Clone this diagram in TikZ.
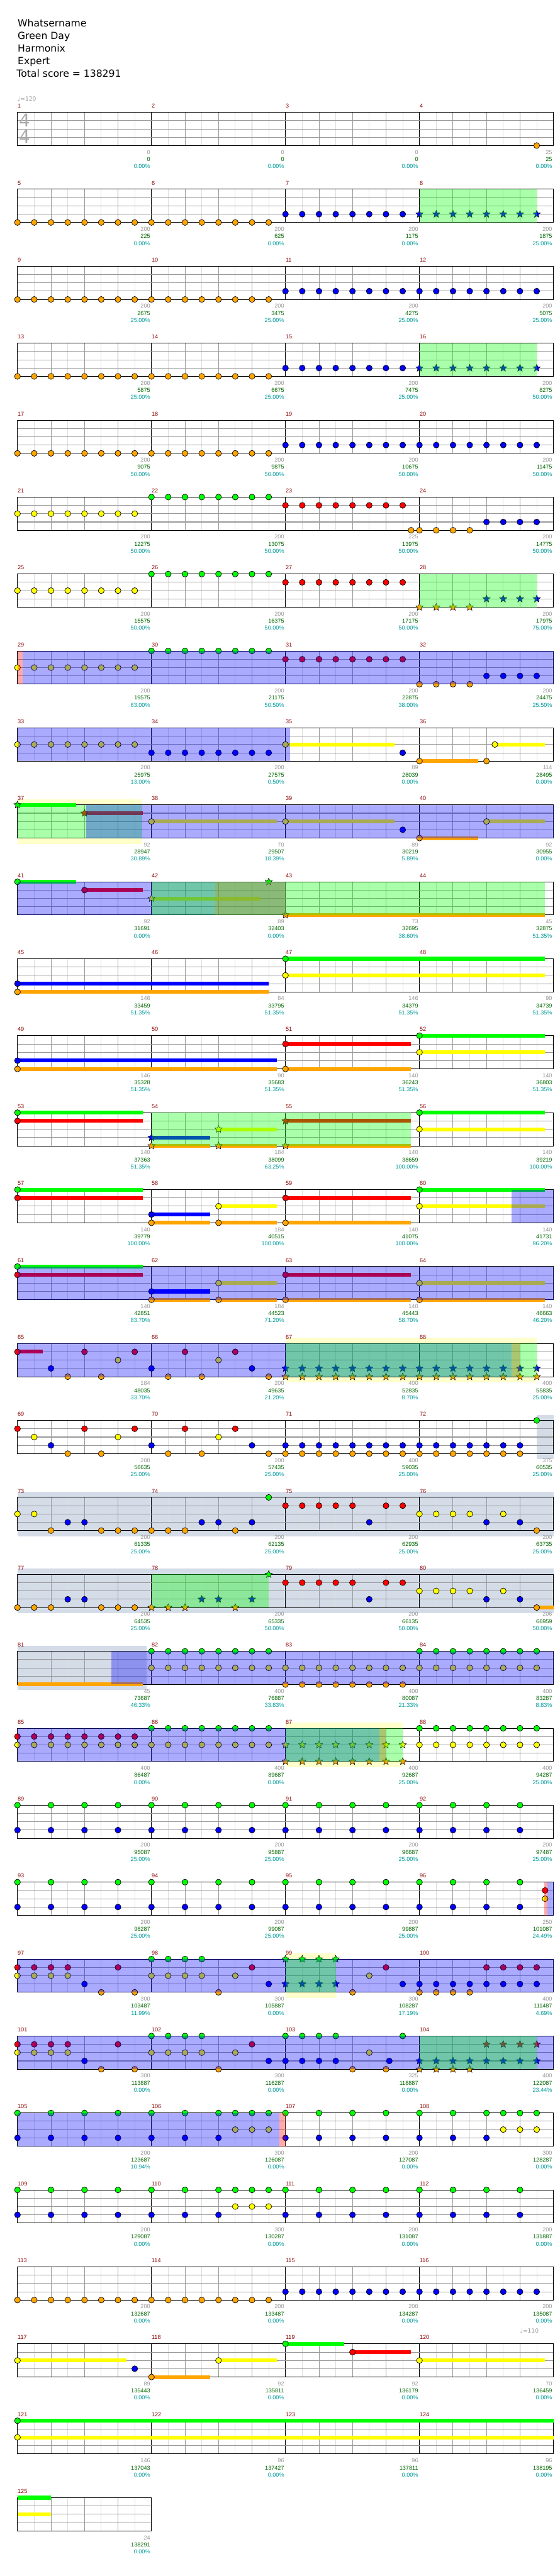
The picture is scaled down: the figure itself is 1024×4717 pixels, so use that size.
\documentclass[tikz,border=0pt]{standalone}
\usepackage{fontspec}
\setmainfont{DejaVu Sans}
\newfontfamily\lblfont{Liberation Sans}
\usetikzlibrary{shapes.geometric}

\definecolor{lane0}{HTML}{00FF00}
\definecolor{lane1}{HTML}{FF0000}
\definecolor{lane2}{HTML}{FFFF00}
\definecolor{lane3}{HTML}{0000FF}
\definecolor{lane4}{HTML}{FFA500}
\definecolor{yzone}{HTML}{FFFFCC}
\definecolor{gzone}{HTML}{D4DCE8}
\definecolor{olivetint}{RGB}{188,164,18}
\definecolor{barnum}{HTML}{8B0000}
\definecolor{ptgray}{HTML}{999999}
\definecolor{totgreen}{HTML}{006600}
\definecolor{pctteal}{HTML}{009C9C}
\definecolor{gridlt}{HTML}{DDDDDD}
\definecolor{gridmd}{HTML}{999999}

% grid of one row, #1 measures
\newcommand{\staff}[1]{%
  \pgfmathtruncatemacro\nE{8*#1}\pgfmathtruncatemacro\nB{4*#1}
  \foreach \q in {1,...,\nE} \draw[eighthln] (\q,0) -- (\q,4);
  \foreach \q in {1,...,\nB} \draw[beatln] ({2*\q},0) -- ({2*\q},4);
  \foreach \q in {1,...,#1} \draw[barln] ({8*\q},0) -- ({8*\q},4);
  \foreach \l in {1,2,3} \draw[laneln] (0,\l) -- (\nE,\l);
  \draw[barln] (0,0) rectangle (\nE,4);}
\newcommand{\gems}[2]{\foreach \q in {#1}{\node[gem,fill=lane#2] (g#2-\q) at (\q,#2) {};}}
\newcommand{\stars}[2]{\foreach \q in {#1}{\node[stargem,fill=lane#2] (s#2-\q) at (\q,#2) {};}}
\newcommand{\pairs}[1]{\foreach \q/\l in {#1}{\node[gem,fill=lane\l] (g\l-\q) at (\q,\l) {};}}
\newcommand{\spairs}[1]{\foreach \q/\l in {#1}{\node[stargem,fill=lane\l] (s\l-\q) at (\q,\l) {};}}
\newcommand{\sus}[3]{\draw[sus,draw=lane#3] (#1,#3) -- (#2,#3);}
\newcommand{\ovl}[3]{\fill[#1,fill opacity=0.333] (#2,0) rectangle (#3,4);}
\newcommand{\zone}[3]{\fill[#1] (#2,-0.68) rectangle (#3,4.68);}
\newcommand{\yband}[2]{\zone{yzone}{#1}{#2}\fill[white] (#1,0) rectangle (#2,4);}
% measure numbers and the three scores under each bar
\newcommand{\barmarks}[2]{%
  \foreach \vp/\vt/\vc [count=\j from 0] in {#2}{%
    \pgfmathtruncatemacro\mn{#1+\j}
    \node[mnum] (m\mn) at ({8*\j},-0.76) {\mn};
    \node[pts] (p\mn) at ({8*\j+8},4.8) {\vp};
    \node[tot] (t\mn) at ({8*\j+8},5.66) {\vt};
    \node[pct] (c\mn) at ({8*\j+8},6.51) {\vc\%};}}

\begin{document}
\begin{tikzpicture}[x=0.5pt,y=-0.5pt,
  row/.style={shift={(32,{205.7+(#1-1)*140.9})},x=15.328pt,y=-7.6pt},
  gem/.style={circle,draw=black,line width=0.4pt,minimum size=5.4pt,inner sep=0pt},
  stargem/.style={star,star points=5,star point ratio=2.2,draw=black,line width=0.3pt,minimum size=7pt,inner sep=0pt},
  sus/.style={line width=3.5pt},
  eighthln/.style={draw=gridlt,line width=0.5pt},
  beatln/.style={draw=gridmd,line width=0.5pt},
  barln/.style={draw=black,line width=0.55pt},
  laneln/.style={draw=gridmd,line width=0.6pt},
  small/.style={font=\lblfont\fontsize{5.25}{6}\selectfont,inner sep=0pt},
  mnum/.style={small,text=barnum,anchor=west},
  pts/.style={small,text=ptgray,anchor=east,xshift=-1pt},
  tot/.style={small,text=totgreen,anchor=east,xshift=-1pt},
  pct/.style={small,text=pctteal,anchor=east,xshift=-1pt},
  title/.style={font=\fontsize{9}{11}\selectfont,anchor=base west,inner sep=0pt},
  tempo/.style={font=\fontsize{5.25}{6}\selectfont,inner sep=0pt,text=ptgray,anchor=west},
  timesig/.style={font=\fontsize{16}{16}\selectfont,text=black!33,inner sep=0pt}]
\fill[white] (0,0) rectangle (1024,4717);
\useasboundingbox (0,0) rectangle (1024,4717);

\node[title] (song) at (32,49) {Whatsername};
\node[title] (artist) at (32,72) {Green Day};
\node[title] (charter) at (32,95) {Harmonix};
\node[title] (level) at (32,118) {Expert};
\node[title] (score) at (30,141) {Total score = 138291};

\begin{scope}[row=1]
  \staff{4}
  \node[timesig] (sig1) at (0.42,0.95) {4};
  \node[timesig] (sig2) at (0.42,2.92) {4};
  \node[tempo] (bpm1) at (0,-1.62) {♩=120};
  \gems{31}{4}
  \barmarks{1}{0/0/0.00,0/0/0.00,0/0/0.00,25/25/0.00}
\end{scope}

\begin{scope}[row=2]
  \staff{4}
  \gems{0,...,15}{4} \gems{16,...,23}{3} \stars{24,...,31}{3}
  \ovl{lane0}{24}{31}
  \barmarks{5}{200/225/0.00,200/625/0.00,200/1175/0.00,200/1875/25.00}
\end{scope}

\begin{scope}[row=3]
  \staff{4}
  \gems{0,...,15}{4} \gems{16,...,31}{3}
  \barmarks{9}{200/2675/25.00,200/3475/25.00,200/4275/25.00,200/5075/25.00}
\end{scope}

\begin{scope}[row=4]
  \staff{4}
  \gems{0,...,15}{4} \gems{16,...,23}{3} \stars{24,...,31}{3}
  \ovl{lane0}{24}{31}
  \barmarks{13}{200/5875/25.00,200/6675/25.00,200/7475/25.00,200/8275/50.00}
\end{scope}

\begin{scope}[row=5]
  \staff{4}
  \gems{0,...,15}{4} \gems{16,...,31}{3}
  \barmarks{17}{200/9075/50.00,200/9875/50.00,200/10675/50.00,200/11475/50.00}
\end{scope}

\begin{scope}[row=6]
  \staff{4}
  \gems{0,...,7}{2} \gems{8,...,15}{0} \gems{16,...,23}{1}
  \gems{23.5,24,25,26,27}{4} \gems{28,...,31}{3}
  \barmarks{21}{200/12275/50.00,200/13075/50.00,225/13975/50.00,200/14775/50.00}
\end{scope}

\begin{scope}[row=7]
  \staff{4}
  \gems{0,...,7}{2} \gems{8,...,15}{0} \gems{16,...,23}{1}
  \stars{24,...,27}{4} \stars{28,...,31}{3}
  \ovl{lane0}{24}{31}
  \barmarks{25}{200/15575/50.00,200/16375/50.00,200/17175/50.00,200/17975/75.00}
\end{scope}

\begin{scope}[row=8]
  \staff{4}
  \gems{0,...,7}{2} \gems{8,...,15}{0} \gems{16,...,23}{1}
  \gems{24,...,27}{4} \gems{28,...,31}{3}
  \ovl{lane1}{0}{0.3} \ovl{lane3}{0.3}{32}
  \barmarks{29}{200/19575/63.00,200/21175/50.50,200/22875/38.00,200/24475/25.50}
\end{scope}

\begin{scope}[row=9]
  \staff{4}
  \sus{16}{22.5}{2} \sus{24}{27.5}{4} \sus{28.5}{31.5}{2}
  \gems{0,...,7}{2} \gems{8,...,15}{3} \gems{16,28.5}{2} \gems{23}{3} \gems{24,28}{4}
  \ovl{lane3}{0}{16.28}
  \barmarks{33}{200/25975/13.00,200/27575/0.50,89/28039/0.00,114/28495/0.00}
\end{scope}

\begin{scope}[row=10]
  \yband{0}{7.46}
  \staff{4}
  \sus{0}{3.5}{0} \sus{4}{7.5}{1} \sus{8}{15.5}{2} \sus{16}{22.5}{2} \sus{24}{27.5}{4} \sus{28}{31.5}{2}
  \stars{0}{0} \stars{4}{1} \gems{8,16,28}{2} \gems{23}{3} \gems{24}{4}
  \ovl{lane0}{0}{7.46} \ovl{lane3}{4.1}{32}
  \barmarks{37}{92/28947/30.89,70/29507/18.39,89/30219/5.89,92/30955/0.00}
\end{scope}

\begin{scope}[row=11]
  \staff{4}
  \sus{0}{3.5}{0} \sus{4}{7.5}{1} \sus{8}{14.5}{2} \sus{16}{31.5}{4}
  \gems{0}{0} \gems{4}{1} \stars{8}{2} \stars{15}{0} \stars{16}{4}
  \ovl{lane3}{0}{16} \ovl{lane0}{8}{31.5} \ovl{olivetint}{11.8}{16}
  \barmarks{41}{92/31691/0.00,89/32403/0.00,73/32695/38.60,45/32875/51.35}
\end{scope}

\begin{scope}[row=12]
  \staff{4}
  \sus{0}{15}{3} \sus{0}{15}{4} \sus{16}{31.5}{0} \sus{16}{31.5}{2}
  \gems{0}{3} \gems{0}{4} \gems{16}{0} \gems{16}{2}
  \barmarks{45}{146/33459/51.35,84/33795/51.35,146/34379/51.35,90/34739/51.35}
\end{scope}

\begin{scope}[row=13]
  \staff{4}
  \sus{0}{15.5}{3} \sus{0}{15.5}{4} \sus{16}{23.5}{1} \sus{16}{23.5}{4} \sus{24}{31.5}{0} \sus{24}{31.5}{2}
  \gems{0}{3} \gems{0,16}{4} \gems{16}{1} \gems{24}{0} \gems{24}{2}
  \barmarks{49}{146/35328/51.35,90/35683/51.35,140/36243/51.35,140/36803/51.35}
\end{scope}

\begin{scope}[row=14]
  \staff{4}
  \sus{0}{7.5}{0} \sus{0}{7.5}{1} \sus{8}{11.5}{3} \sus{8}{11.5}{4} \sus{12}{15.5}{2}
  \sus{12}{15.5}{4} \sus{16}{23.5}{1} \sus{16}{23.5}{4} \sus{24}{31.5}{0} \sus{24}{31.5}{2}
  \gems{0,24}{0} \gems{0}{1} \gems{24}{2}
  \stars{8}{3} \stars{8,12,16}{4} \stars{12}{2} \stars{16}{1}
  \ovl{lane0}{8}{23.47}
  \barmarks{53}{140/37363/51.35,184/38099/63.25,140/38659/100.00,140/39219/100.00}
\end{scope}

\begin{scope}[row=15]
  \staff{4}
  \sus{0}{7.5}{0} \sus{0}{7.5}{1} \sus{8}{11.5}{3} \sus{8}{11.5}{4} \sus{12}{15.5}{2}
  \sus{12}{15.5}{4} \sus{16}{23.5}{1} \sus{16}{23.5}{4} \sus{24}{31.5}{0} \sus{24}{31.5}{2}
  \gems{0,24}{0} \gems{0,16}{1} \gems{8}{3} \gems{8,12,16}{4} \gems{12,24}{2}
  \ovl{lane3}{29.5}{32}
  \barmarks{57}{140/39779/100.00,184/40515/100.00,140/41075/100.00,140/41731/96.20}
\end{scope}

\begin{scope}[row=16]
  \staff{4}
  \sus{0}{7.5}{0} \sus{0}{7.5}{1} \sus{8}{11.5}{3} \sus{8}{11.5}{4} \sus{12}{15.5}{2}
  \sus{12}{15.5}{4} \sus{16}{23.5}{1} \sus{16}{23.5}{4} \sus{24}{31.5}{2} \sus{24}{31.5}{4}
  \gems{0}{0} \gems{0,16}{1} \gems{8}{3} \gems{8,12,16,24}{4} \gems{12,24}{2}
  \ovl{lane3}{0}{32}
  \barmarks{61}{140/42851/83.70,184/44523/71.20,140/45443/58.70,140/46663/46.20}
\end{scope}

\begin{scope}[row=17]
  \yband{16}{31}
  \staff{4}
  \sus{0}{1.5}{1}
  \pairs{0/1,2/3,3/4,4/1,5/4,6/2,7/1,8/3,9/4,10/1,11/4,12/2,13/1,14/3,15/4}
  \stars{16,...,31}{3} \stars{16,...,31}{4}
  \ovl{lane3}{0}{29.5} \ovl{lane1}{29.5}{30} \ovl{lane0}{16}{31}
  \barmarks{65}{184/48035/33.70,200/49635/21.20,400/52835/8.70,400/55835/25.00}
\end{scope}

\begin{scope}[row=18]
  \zone{gzone}{31}{32}
  \staff{4}
  \pairs{0/1,1/2,2/3,3/4,4/1,5/4,6/2,7/1,8/3,9/4,10/1,11/4,12/2,13/1,14/3,15/4}
  \gems{16,...,30}{3} \gems{16,...,30}{4} \gems{31}{0}
  \barmarks{69}{200/56635/25.00,200/57435/25.00,400/59035/25.00,375/60535/25.00}
\end{scope}

\begin{scope}[row=19]
  \zone{gzone}{0}{32}
  \staff{4}
  \pairs{0/2,1/2,2/4,3/3,4/3,5/4,6/4,7/4,8/4,9/4,10/4,11/3,12/3,13/4,14/3,15/0,16/1,17/1,
    18/1,19/1,20/1,21/3,22/1,23/1,24/2,25/2,26/2,27/2,28/3,29/2,30/3,31/4}
  \barmarks{73}{200/61335/25.00,200/62135/25.00,200/62935/25.00,200/63735/25.00}
\end{scope}

\begin{scope}[row=20]
  \zone{gzone}{0}{32}
  \staff{4}
  \sus{31}{32}{4}
  \pairs{0/4,1/4,2/4,3/3,4/3,5/4,6/4,7/4,16/1,17/1,18/1,19/1,20/1,21/3,22/1,23/1,
    24/2,25/2,26/2,27/2,28/3,29/2,30/3,31/4}
  \spairs{8/4,9/4,10/4,11/3,12/3,13/4,14/3,15/0}
  \ovl{lane0}{8}{15}
  \barmarks{77}{200/64535/25.00,200/65335/50.00,200/66135/50.00,206/66959/50.00}
\end{scope}

\begin{scope}[row=21]
  \zone{gzone}{0}{7.72}
  \staff{4}
  \sus{0}{7.5}{4}
  \gems{8,...,15}{0} \gems{8,...,31}{2} \gems{16,...,23}{4} \gems{24,...,31}{0}
  \ovl{lane3}{5.61}{32}
  \barmarks{81}{45/73687/46.33,400/76887/33.83,400/80087/21.33,400/83287/8.83}
\end{scope}

\begin{scope}[row=22]
  \yband{16}{23}
  \staff{4}
  \gems{0,...,7}{1} \gems{0,...,15}{2} \gems{8,...,15}{0}
  \stars{16,...,23}{2} \stars{16,...,23}{4} \gems{24,...,31}{0} \gems{24,...,31}{2}
  \ovl{lane3}{0}{21.6} \ovl{lane1}{21.6}{22} \ovl{lane0}{16}{23}
  \barmarks{85}{400/86487/0.00,400/89687/0.00,400/92687/25.00,400/94287/25.00}
\end{scope}

\begin{scope}[row=23]
  \staff{4}
  \gems{0,2,...,30}{0} \gems{0,2,...,30}{3}
  \barmarks{89}{200/95087/25.00,200/95887/25.00,200/96687/25.00,200/97487/25.00}
\end{scope}

\begin{scope}[row=24]
  \staff{4}
  \gems{0,2,...,30}{0} \gems{0,2,...,30}{3} \gems{31.5}{1} \gems{31.5}{2}
  \ovl{lane1}{31.45}{31.62} \ovl{lane3}{31.62}{32}
  \barmarks{93}{200/98287/25.00,200/99087/25.00,200/99887/25.00,250/101087/24.49}
\end{scope}

\begin{scope}[row=25]
  \yband{16}{19}
  \staff{4}
  \gems{0,...,3}{1} \gems{0,...,3}{2} \pairs{4/3,5/4,6/1,7/4}
  \gems{8,...,11}{0} \gems{8,...,11}{2} \pairs{12/4,13/2,14/1,15/3}
  \stars{16,...,19}{0} \stars{16,...,19}{3} \pairs{20/4,21/2,22/1,23/3}
  \gems{24,...,31}{3} \gems{24,...,27}{4} \gems{28,...,31}{1}
  \ovl{lane3}{0}{32} \ovl{lane0}{16}{19}
  \barmarks{97}{300/103487/11.99,300/105887/0.00,300/108287/17.19,400/111487/4.69}
\end{scope}

\begin{scope}[row=26]
  \staff{4}
  \gems{0,...,3}{1} \gems{0,...,3}{2} \pairs{4/3,5/4,6/1,7/4}
  \gems{8,...,11}{0} \gems{8,...,11}{2} \pairs{12/4,13/2,14/1,15/3}
  \gems{16,...,19}{0} \gems{16,...,19}{3} \pairs{20/4,21/2,22/4,22.2/3,23/0}
  \stars{24,...,31}{3} \stars{24,...,27}{4} \stars{28,...,31}{1}
  \ovl{lane3}{0}{32} \ovl{lane0}{24}{31}
  \barmarks{101}{300/113887/0.00,300/116287/0.00,325/118887/0.00,400/122087/23.44}
\end{scope}

\begin{scope}[row=27]
  \staff{4}
  \gems{0,2,4,6,8,10,12,13,14,15,16,18,20,22,24,26,28,29,30,31}{0}
  \gems{0,2,4,6,8,10,12,16,18,20,22,24,26,28}{3} \gems{13,14,15,29,30,31}{2}
  \ovl{lane3}{0}{15.64} \ovl{lane1}{15.64}{16}
  \barmarks{105}{200/123687/10.94,300/126087/0.00,200/127087/0.00,300/128287/0.00}
\end{scope}

\begin{scope}[row=28]
  \staff{4}
  \gems{0,2,4,6,8,10,12,13,14,15,16,18,20,22,24,26,28,30}{0}
  \gems{0,2,4,6,8,10,12,16,18,20,22,24,26,28,30}{3} \gems{13,14,15}{2}
  \barmarks{109}{200/129087/0.00,300/130287/0.00,200/131087/0.00,200/131887/0.00}
\end{scope}

\begin{scope}[row=29]
  \staff{4}
  \gems{0,...,15}{4} \gems{16,...,31}{3}
  \barmarks{113}{200/132687/0.00,200/133487/0.00,200/134287/0.00,200/135087/0.00}
\end{scope}

\begin{scope}[row=30]
  \staff{4}
  \node[tempo] (bpm2) at (30,-1.58) {♩=110};
  \sus{0}{6.5}{2} \sus{8}{11.5}{4} \sus{12}{15.5}{2} \sus{16}{19.5}{0} \sus{20}{23.5}{1} \sus{24}{31.5}{2}
  \pairs{0/2,7/3,8/4,12/2,16/0,20/1,24/2}
  \barmarks{117}{89/135443/0.00,92/135811/0.00,92/136179/0.00,70/136459/0.00}
\end{scope}

\begin{scope}[row=31]
  \staff{4}
  \sus{0}{32}{0} \sus{0}{32}{2}
  \pairs{0/0,0/2}
  \barmarks{121}{146/137043/0.00,96/137427/0.00,96/137811/0.00,96/138195/0.00}
\end{scope}

\begin{scope}[row=32]
  \staff{1}
  \sus{0}{2}{0} \sus{0}{2}{2}
  \barmarks{125}{24/138291/0.00}
\end{scope}
\end{tikzpicture}
\end{document}
